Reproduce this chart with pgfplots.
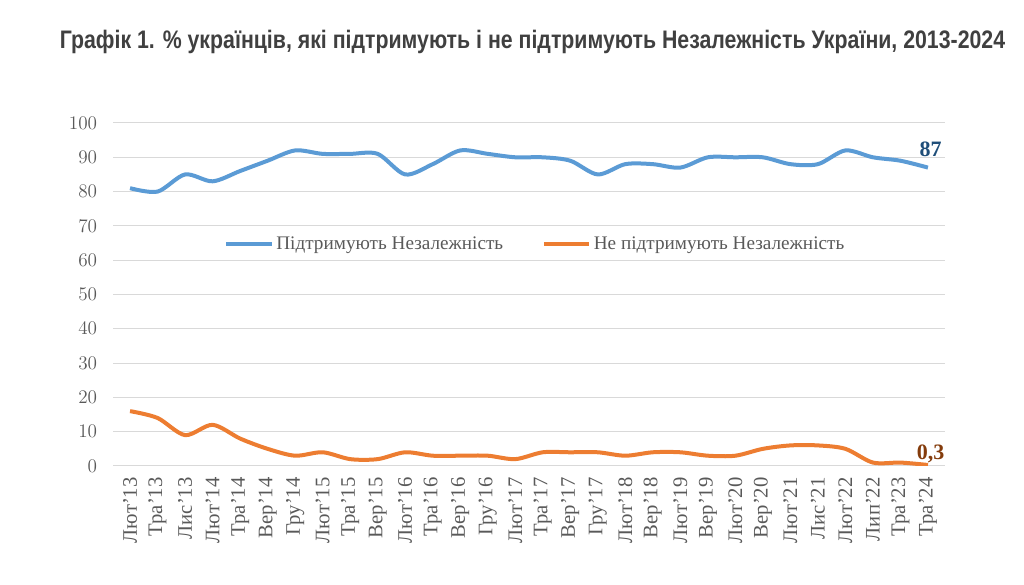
\documentclass[border=0pt]{standalone}
\usepackage{fontspec}
\setmainfont{Liberation Serif}
\newfontfamily\titlefont{Liberation Sans}
\usepackage{graphicx}
\usepackage{pgfplots}
\pgfplotsset{compat=1.18}
\definecolor{blueS}{HTML}{5B9BD5}
\definecolor{orangeS}{HTML}{ED7D31}
\definecolor{gridc}{HTML}{D9D9D9}
\definecolor{tickc}{HTML}{595959}
\definecolor{ttl}{HTML}{404040}
\definecolor{lblB}{HTML}{1F4E79}
\definecolor{lblO}{HTML}{843C0C}
\begin{document}
\begin{tikzpicture}[x=0.75pt,y=0.75pt]
\path[use as bounding box] (0,0) rectangle (1024,585);
\node[text=ttl,font=\titlefont\bfseries\fontsize{19}{22}\selectfont,inner sep=0pt] at (532.5,543) {\resizebox{709pt}{\height}{Графік 1. \% українців, які підтримують і не підтримують Незалежність України, 2013-2024}};
\begin{axis}[
  at={(84.75pt,89.25pt)}, anchor=south west,
  width=624pt, height=257.25pt, scale only axis,
  xmin=-0.62, xmax=29.62, ymin=0, ymax=100,
  ytick={0,10,...,100},
  xtick={0,...,29},
  xticklabels={Лют'13,Тра'13,Лис'13,Лют'14,Тра'14,Вер'14,Гру'14,Лют'15,Тра'15,Вер'15,Лют'16,Тра'16,Вер'16,Гру'16,Лют'17,Тра'17,Вер'17,Гру'17,Лют'18,Вер'18,Лют'19,Вер'19,Лют'20,Вер'20,Лют'21,Лис'21,Лют'22,Лип'22,Тра'23,Тра'24},
  x tick label style={rotate=90, anchor=east, font=\fontsize{15.5}{17}\selectfont, text=tickc},
  y tick label style={font=\fontsize{13.3}{15}\selectfont, text=tickc},
  xtick style={draw=none}, ytick style={draw=none},
  xticklabel shift=5pt, yticklabel shift=8.4pt,
  axis line style={draw=none},
  ymajorgrids, grid style={draw=gridc, line width=0.75pt},
  legend columns=2,
  legend style={at={(0.508,0.647)}, anchor=center, draw=none, fill=none,
    font=\fontsize{14.4}{17}\selectfont, text=tickc,
    /tikz/every even column/.append style={column sep=27pt}},
  legend image code/.code={\draw[#1] (0pt,0pt) -- (34pt,0pt);},
]
\addplot[color=blueS, line width=3pt, smooth, tension=0.5] coordinates {
(0,81)(1,80)(2,85)(3,83)(4,86)(5,89)(6,92)(7,91)(8,91)(9,91)(10,85)(11,88)(12,92)(13,91)(14,90)(15,90)(16,89)(17,85)(18,88)(19,88)(20,87)(21,90)(22,90)(23,90)(24,88)(25,88)(26,92)(27,90)(28,89)(29,87)};
\addlegendentry{Підтримують Незалежність}
\addplot[color=orangeS, line width=3pt, smooth, tension=0.5] coordinates {
(0,16)(1,14)(2,9)(3,12)(4,8)(5,5)(6,3)(7,4)(8,2)(9,2)(10,4)(11,3)(12,3)(13,3)(14,2)(15,4)(16,4)(17,4)(18,3)(19,4)(20,4)(21,3)(22,3)(23,5)(24,6)(25,6)(26,5)(27,1)(28,1)(29,0.3)};
\addlegendentry{Не підтримують Незалежність}
\node[font=\bfseries\fontsize{16.5}{18}\selectfont, text=lblB, anchor=base, inner sep=0pt] at (axis cs:29.1,90.1) {87};
\node[font=\bfseries\fontsize{16.5}{18}\selectfont, text=lblO, anchor=base, inner sep=0pt] at (axis cs:29.1,1.75) {0,3};
\end{axis}
\end{tikzpicture}
\end{document}
